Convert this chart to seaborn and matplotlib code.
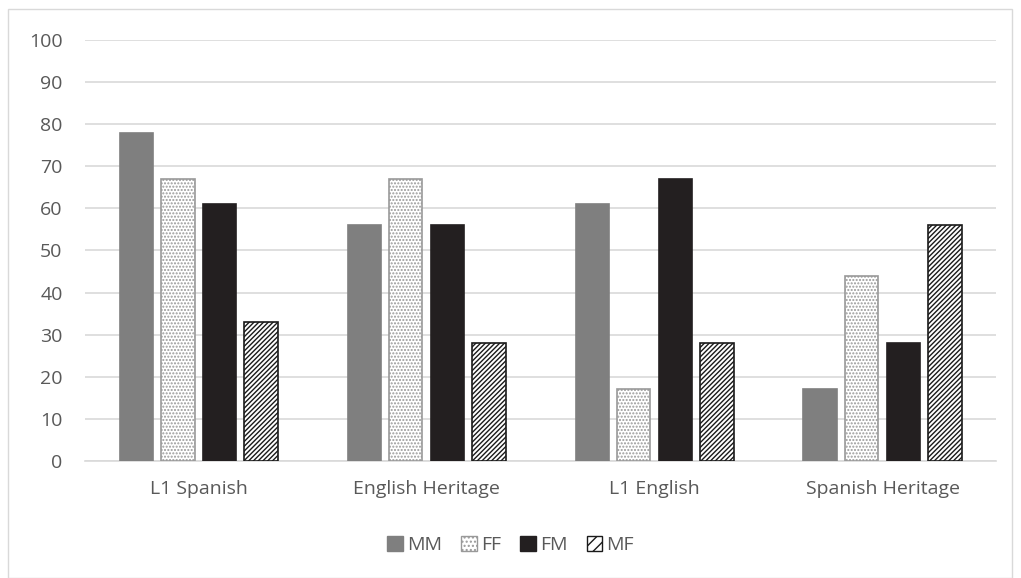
import numpy as np
import pandas as pd
import seaborn as sns
import matplotlib.pyplot as plt
from matplotlib.patches import Patch, Rectangle

groups = ['L1 Spanish', 'English Heritage', 'L1 English', 'Spanish Heritage']
pairs = ['MM', 'FF', 'FM', 'MF']
mm = [78, 56, 61, 17]
ff = [67, 67, 17, 44]
fm = [61, 56, 67, 28]
mf = [33, 28, 28, 56]

df = pd.DataFrame({
    'group': groups * 4,
    'pair': [p for p in pairs for _ in groups],
    'value': mm + ff + fm + mf,
})

sns.set_style('white')
plt.rcParams['font.family'] = ['Open Sans', 'DejaVu Sans']
plt.rcParams['hatch.linewidth'] = 1.0

fig = plt.figure(figsize=(10.21, 5.78), dpi=100)
ax = fig.add_axes([0.083, 0.2024, 0.893, 0.7286])

face = {'MM': '#7f7f7f', 'FF': '#ffffff', 'FM': '#231f20', 'MF': '#ffffff'}
sns.barplot(data=df, x='group', y='value', hue='pair', order=groups, hue_order=pairs,
            palette=face, width=0.73, gap=0.2, saturation=1, ax=ax, legend=False, zorder=3)

styles = {
    'MM': dict(edge='#7f7f7f', hatch=None),
    'FF': dict(edge='#999999', hatch='.....'),
    'FM': dict(edge='#231f20', hatch=None),
    'MF': dict(edge='#1a1a1a', hatch='///////'),
}
for cont, p in zip(ax.containers, pairs):
    for bar in cont:
        bar.set_edgecolor(styles[p]['edge'])
        bar.set_linewidth(1.2)
        if styles[p]['hatch']:
            bar.set_hatch(styles[p]['hatch'])

ax.set_ylim(0, 100)
ax.set_yticks(np.arange(0, 101, 10))
ax.set_xlim(-0.5, 3.5)
ax.yaxis.grid(True, color='#d9d9d9', linewidth=1.2, zorder=0)
ax.set_axisbelow(True)
for s in ['top', 'right', 'left']:
    ax.spines[s].set_visible(False)
ax.spines['bottom'].set_color('#d9d9d9')
ax.spines['bottom'].set_linewidth(1.2)
ax.tick_params(axis='both', colors='#595959', labelsize=14, length=0)
ax.tick_params(axis='x', pad=14)
ax.tick_params(axis='y', pad=16)
ax.set_xlabel('')
ax.set_ylabel('')

handles = [
    Patch(facecolor='#7f7f7f', edgecolor='#7f7f7f', label='MM'),
    Patch(facecolor='white', edgecolor='#999999', hatch='....', label='FF'),
    Patch(facecolor='#231f20', edgecolor='#231f20', label='FM'),
    Patch(facecolor='white', edgecolor='#1a1a1a', hatch='///', label='MF'),
]
fig.legend(handles=handles, loc='center', bbox_to_anchor=(0.5, 0.057), ncol=4, frameon=False,
           handlelength=0.8, handleheight=0.8, handletextpad=0.2, columnspacing=1.0,
           fontsize=14, labelcolor='#595959')

fig.patches.append(Rectangle((8 / 1021, 0), 1004 / 1021, 569 / 578, transform=fig.transFigure,
                             fill=False, edgecolor='#d9d9d9', linewidth=1))

fig.savefig('out.png', dpi=100)
